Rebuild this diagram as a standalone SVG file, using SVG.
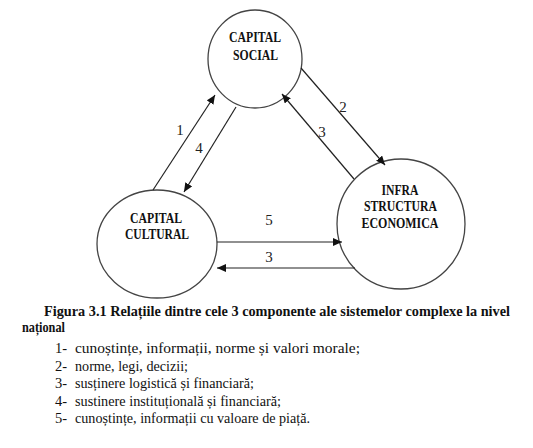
<svg xmlns="http://www.w3.org/2000/svg" width="533" height="448" viewBox="0 0 533 448">
<style>
.node ellipse{fill:#fff;stroke:#444;stroke-width:1.3}
.nl{font-weight:bold;font-size:14.5px;fill:#111;text-anchor:middle}
.conn line{stroke:#222;stroke-width:1.2;marker-end:url(#ah)}
.num{font-size:15px;fill:#222;text-anchor:middle}
.cap{font-weight:bold;font-size:14.5px;fill:#111}
.li{font-size:14.5px;fill:#111}
</style>
<defs>
<marker id="ah" markerWidth="10" markerHeight="8" refX="9" refY="4" orient="auto" markerUnits="userSpaceOnUse">
<path d="M0,0 L9,4 L0,8 z" fill="#111"/>
</marker>
</defs>
<rect width="533" height="448" fill="#fff"/>
<g font-family="Liberation Serif, Times New Roman, serif">
<g id="capital-social" class="node">
<ellipse cx="255" cy="59" rx="47" ry="49"/>
<text class="nl" x="255" y="42" textLength="52" lengthAdjust="spacingAndGlyphs">CAPITAL</text>
<text class="nl" x="255.5" y="60" textLength="45" lengthAdjust="spacingAndGlyphs">SOCIAL</text>
</g>
<g id="capital-cultural" class="node">
<ellipse cx="157" cy="244" rx="60" ry="54"/>
<text class="nl" x="156" y="223" textLength="52" lengthAdjust="spacingAndGlyphs">CAPITAL</text>
<text class="nl" x="157" y="239" textLength="64" lengthAdjust="spacingAndGlyphs">CULTURAL</text>
</g>
<g id="infrastructura-economica" class="node">
<ellipse cx="401" cy="224" rx="64" ry="65"/>
<text class="nl" x="400" y="195" textLength="37" lengthAdjust="spacingAndGlyphs">INFRA</text>
<text class="nl" x="400.5" y="211" textLength="73" lengthAdjust="spacingAndGlyphs">STRUCTURA</text>
<text class="nl" x="400" y="228" textLength="77" lengthAdjust="spacingAndGlyphs">ECONOMICA</text>
</g>
<g id="connectors" class="conn">
<line x1="153" y1="190" x2="215" y2="95"/>
<line x1="236" y1="107" x2="184" y2="192"/>
<line x1="301" y1="68" x2="385" y2="165"/>
<line x1="354" y1="179" x2="282" y2="94"/>
<line x1="217" y1="242" x2="342" y2="242"/>
<line x1="355" y1="268" x2="217" y2="268"/>
</g>
<g id="connector-labels">
<text class="num" x="180" y="135">1</text>
<text class="num" x="199" y="153">4</text>
<text class="num" x="343" y="112">2</text>
<text class="num" x="322" y="137">3</text>
<text class="num" x="269" y="225">5</text>
<text class="num" x="269" y="262">3</text>
</g>
<g id="caption">
<text class="cap" x="44" y="316" textLength="466" lengthAdjust="spacingAndGlyphs">Figura 3.1 Relațiile dintre cele 3 componente ale sistemelor complexe la nivel</text>
<text class="cap" x="22" y="332" textLength="43" lengthAdjust="spacingAndGlyphs">național</text>
<text class="li" x="55" y="353">1-</text><text class="li" x="75" y="353" textLength="285" lengthAdjust="spacingAndGlyphs">cunoștințe, informații, norme și valori morale;</text>
<text class="li" x="55" y="371">2-</text><text class="li" x="75" y="371" textLength="113" lengthAdjust="spacingAndGlyphs">norme, legi, decizii;</text>
<text class="li" x="55" y="388">3-</text><text class="li" x="75" y="388" textLength="179" lengthAdjust="spacingAndGlyphs">susținere logistică și financiară;</text>
<text class="li" x="55" y="406">4-</text><text class="li" x="75" y="406" textLength="206" lengthAdjust="spacingAndGlyphs">sustinere instituțională și financiară;</text>
<text class="li" x="55" y="423">5-</text><text class="li" x="75" y="423" textLength="235" lengthAdjust="spacingAndGlyphs">cunoștințe, informații cu valoare de piață.</text>
</g>
</g>
</svg>
